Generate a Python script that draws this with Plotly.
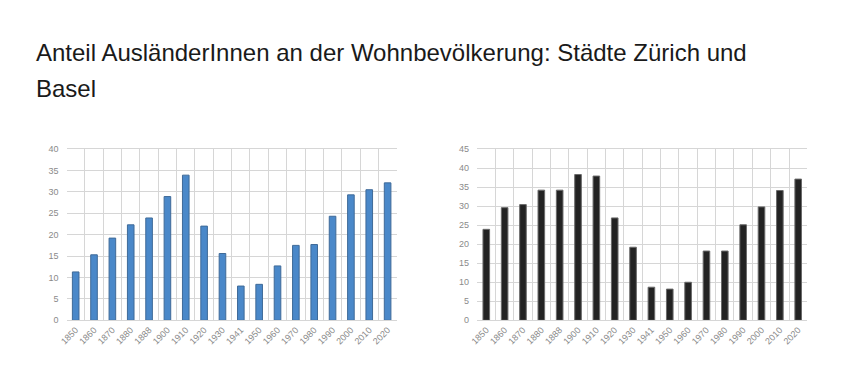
import plotly.graph_objects as go

years = ["1850", "1860", "1870", "1880", "1888", "1900", "1910", "1920", "1930",
         "1941", "1950", "1960", "1970", "1980", "1990", "2000", "2010", "2020"]
zurich = [11.3, 15.3, 19.2, 22.3, 23.9, 28.9, 33.9, 22.0, 15.6,
          8.0, 8.4, 12.7, 17.5, 17.7, 24.3, 29.3, 30.5, 32.1]
basel = [23.9, 29.6, 30.4, 34.2, 34.2, 38.3, 37.9, 26.9, 19.2,
         8.7, 8.2, 10.0, 18.2, 18.2, 25.1, 29.8, 34.1, 37.1]
title_line1 = "Anteil AusländerInnen an der Wohnbevölkerung: Städte Zürich und"
title_line2 = "Basel"

W, H = 853, 373


def fx(px):
    return px / W


def fy(py):
    return 1 - py / H


fig = go.Figure()
fig.add_trace(go.Bar(x=years, y=zurich, xaxis="x", yaxis="y",
                     marker=dict(color="#4a88c9", line=dict(color="#3f6a98", width=1)),
                     showlegend=False))
fig.add_trace(go.Bar(x=years, y=basel, xaxis="x2", yaxis="y2",
                     marker=dict(color="#232323", line=dict(color="#6a6a6a", width=1)),
                     showlegend=False))

grid = "#d6d6d6"
tickfont = dict(family="Liberation Sans, Arial, sans-serif", size=9, color="#8a8a8a")
y0 = fy(324)
y1 = fy(148)

xcommon = dict(type="category", tickson="boundaries", showgrid=True, gridcolor=grid,
               gridwidth=1, tickangle=-45, tickfont=tickfont, ticks="",
               showline=True, linecolor=grid, mirror=True, fixedrange=True)
ycommon = dict(showgrid=True, gridcolor=grid, gridwidth=1, tickfont=tickfont, dtick=5,
               ticks="", zeroline=False, showline=False, fixedrange=True,
               ticklabelstandoff=7)

titlefont = dict(family="Liberation Sans, Arial, sans-serif", size=24, color="#1a1a1a")

fig.update_layout(
    width=W, height=H,
    margin=dict(l=0, r=0, t=0, b=0),
    paper_bgcolor="white", plot_bgcolor="white",
    bargap=0.64,
    xaxis=dict(domain=[fx(60), fx(393)], anchor="y", **xcommon),
    yaxis=dict(domain=[y0, y1], anchor="x", range=[0, 40], **ycommon),
    xaxis2=dict(domain=[fx(474), fx(807)], anchor="y2", **xcommon),
    yaxis2=dict(domain=[y0, y1], anchor="x2", range=[0, 45], **ycommon),
    annotations=[
        dict(text=title_line1, xref="paper", yref="paper", x=fx(27), y=fy(49),
             xanchor="left", yanchor="middle", showarrow=False, font=titlefont),
        dict(text=title_line2, xref="paper", yref="paper", x=fx(27), y=fy(86),
             xanchor="left", yanchor="middle", showarrow=False, font=titlefont),
    ],
)

fig.write_html("out.html", config={"displayModeBar": False},
               post_script="document.body.style.margin='0';document.body.style.overflow='hidden';")
